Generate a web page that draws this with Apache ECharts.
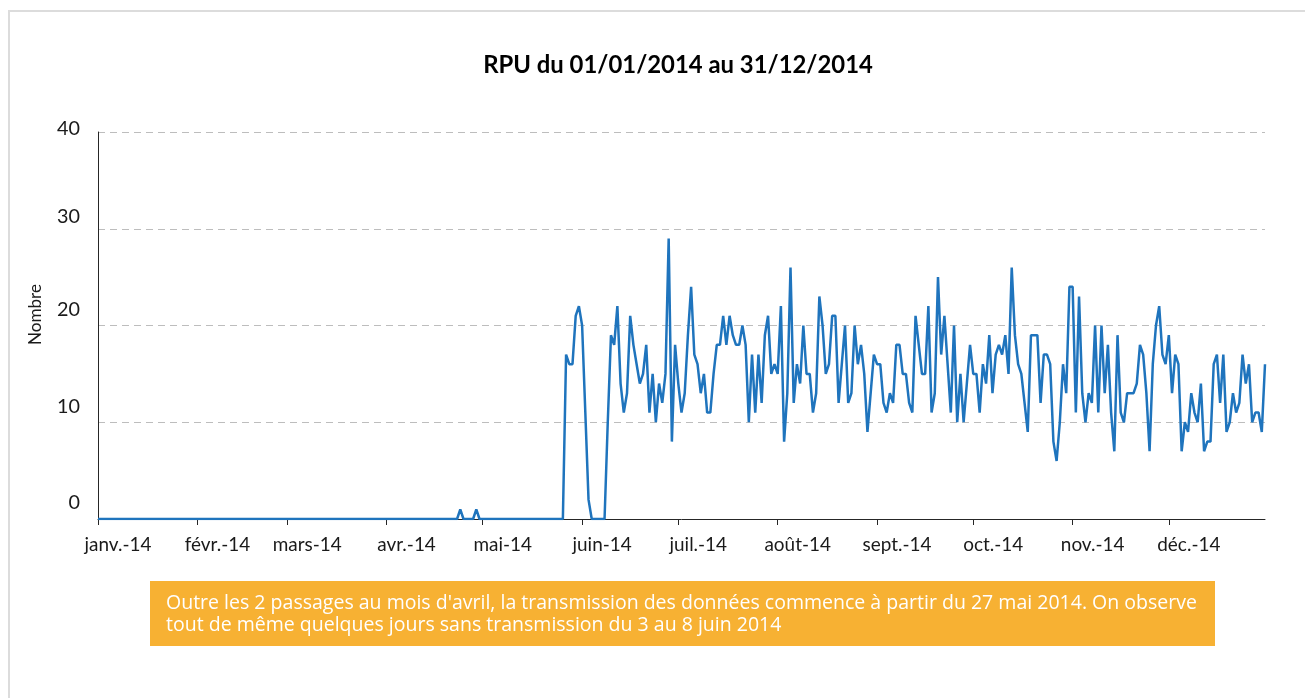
<!DOCTYPE html>
<html>
<head>
<meta charset="utf-8">
<script src="https://cdn.jsdelivr.net/npm/echarts@6/dist/echarts.min.js"></script>
<style>
html,body{margin:0;padding:0;background:#ffffff;}
#chart{width:1305px;height:698px;}
</style>
</head>
<body>
<div id="chart"></div>
<script>
// ---------------- DATA ----------------
const chartTitle = 'RPU du 01/01/2014 au 31/12/2014';
const yAxisName = 'Nombre';
const monthLabels = ['janv.-14','févr.-14','mars-14','avr.-14','mai-14','juin-14','juil.-14','août-14','sept.-14','oct.-14','nov.-14','déc.-14'];
const monthLengths = [31,28,31,30,31,30,31,31,30,31,30,31];
const yTickValues = [0,10,20,30,40];
const annotationLines = [
  "Outre les 2 passages au mois d'avril, la transmission des données commence à partir du 27 mai 2014. On observe",
  "tout de même quelques jours sans transmission du 3 au 8 juin 2014"
];

const janValues = [0,0,0,0,0,0,0,0,0,0,0,0,0,0,0,0,0,0,0,0,0,0,0,0,0,0,0,0,0,0,0];
const febValues = [0,0,0,0,0,0,0,0,0,0,0,0,0,0,0,0,0,0,0,0,0,0,0,0,0,0,0,0];
const marValues = [0,0,0,0,0,0,0,0,0,0,0,0,0,0,0,0,0,0,0,0,0,0,0,0,0,0,0,0,0,0,0];
const aprValues = [0,0,0,0,0,0,0,0,0,0,0,0,0,0,0,0,0,0,0,0,0,0,0,1,0,0,0,0,1,0];
const mayValues = [0,0,0,0,0,0,0,0,0,0,0,0,0,0,0,0,0,0,0,0,0,0,0,0,0,0,17,16,16,21,22];
const junValues = [20,11,2,0,0,0,0,0,10,19,18,22,14,11,13,21,18,16,14,15,18,11,15,10,14,12,15,29,8,18];
const julValues = [14,11,13,19,24,17,16,13,15,11,11,15,18,18,21,18,21,19,18,18,20,18,10,17,11,17,12,19,21,15,16];
const augValues = [15,22,8,13,26,12,16,14,20,15,15,11,13,23,20,15,16,21,21,12,16,20,12,13,20,16,18,15,9,13,17];
const sepValues = [16,16,12,11,13,12,18,18,15,15,12,11,21,18,15,15,22,11,13,25,17,21,16,11,20,10,15,10,14,18];
const octValues = [15,15,11,16,14,19,13,17,18,17,19,15,26,19,16,15,12,9,19,19,19,12,17,17,16,8,6,10,16,13,24];
const novValues = [24,11,23,13,10,13,12,20,11,20,13,18,11,7,19,11,10,13,13,13,14,18,17,13,7,16,20,22,17,16];
const decValues = [19,13,17,16,7,10,9,13,11,10,14,7,8,8,16,17,12,17,9,10,13,11,12,17,14,16,10,11,11,9,16];

// ---------------- BUILD ----------------
const monthlyValues = [janValues,febValues,marValues,aprValues,mayValues,junValues,julValues,augValues,sepValues,octValues,novValues,decValues];
const values = [].concat(...monthlyValues);
const pad = n => (n < 10 ? '0' : '') + n;
const categories = [];
const monthStartSet = new Set();
monthLengths.forEach((len, m) => {
  monthStartSet.add(categories.length);
  for (let d = 1; d <= len; d++) categories.push('2014-' + pad(m + 1) + '-' + pad(d));
});

// font-size fitting to the reference text widths
const ctx = document.createElement('canvas').getContext('2d');
function fit(text, family, weight, target, lo, hi) {
  ctx.font = weight + ' 100px ' + family;
  const w = ctx.measureText(text).width;
  let s = w > 0 ? 100 * target / w : (lo + hi) / 2;
  return Math.max(lo, Math.min(hi, s));
}
const mainFont = 'Lato';
const titleSize = fit(chartTitle, mainFont, 'bold', 390, 18, 30);
const xLabelSize = fit('janv.-14', mainFont, 'normal', 67, 14, 24);
const yLabelSize = fit('40', mainFont, 'normal', 23, 14, 24);
const nameSize = fit(yAxisName, mainFont, 'normal', 61, 13, 22);
const annFont = '"Open Sans"';
const annSize = fit(annotationLines[0], annFont, 'normal', 1032, 12, 20);

const yLift = {0: 16, 10: 16, 20: 16, 30: 12, 40: 3};
const yRich = {};
yTickValues.forEach(v => {
  yRich['y' + v] = {fontFamily: mainFont, fontSize: yLabelSize, color: '#1a1a1a', padding: [0, 0, 2 * yLift[v], 0]};
});

const chart = echarts.init(document.getElementById('chart'), null, {renderer: 'canvas'});
chart.setOption({
  animation: false,
  backgroundColor: '#ffffff',
  title: {
    text: chartTitle,
    left: 678,
    top: 50,
    padding: 0,
    textAlign: 'center',
    textStyle: {fontFamily: mainFont, fontWeight: 'bold', fontSize: titleSize, color: '#000000', lineHeight: 30}
  },
  grid: {left: 98, right: 40, top: 132, bottom: 179, containLabel: false},
  xAxis: {
    type: 'category',
    data: categories,
    boundaryGap: false,
    axisLine: {show: true, lineStyle: {color: '#262626', width: 1}},
    axisTick: {show: true, length: 6, interval: (i) => monthStartSet.has(i), lineStyle: {color: '#262626'}},
    axisLabel: {
      show: true,
      interval: (i) => monthStartSet.has(i),
      margin: 16,
      formatter: (val) => '{m|' + monthLabels[parseInt(val.slice(5, 7), 10) - 1] + '}',
      rich: {m: {fontFamily: mainFont, fontSize: xLabelSize, color: '#1a1a1a', padding: [0, 0, 0, 40]}}
    },
    splitLine: {show: false}
  },
  yAxis: {
    type: 'value',
    min: 0,
    max: 40,
    interval: 10,
    name: yAxisName,
    nameLocation: 'middle',
    nameRotate: 90,
    nameGap: 54,
    nameTextStyle: {fontFamily: mainFont, fontSize: nameSize, color: '#1a1a1a', padding: [0, 0, 0, 22]},
    axisLine: {show: true, lineStyle: {color: '#262626', width: 1}},
    axisTick: {show: false},
    axisLabel: {
      margin: 18,
      formatter: (v) => '{y' + v + '|' + v + '}',
      rich: yRich
    },
    splitLine: {show: true, lineStyle: {color: '#bdbdbd', type: [7, 5], width: 1}}
  },
  series: [{
    type: 'line',
    data: values,
    showSymbol: false,
    symbol: 'none',
    lineStyle: {color: '#1f74bd', width: 2.5},
    z: 5
  }],
  graphic: [
    {type: 'rect', shape: {x: 9, y: 11, width: 1400, height: 800}, style: {fill: 'none', stroke: '#dcdcdc', lineWidth: 2}, silent: true, z: -1},
    {type: 'rect', shape: {x: 150, y: 581, width: 1065, height: 65}, style: {fill: '#f7b133'}, silent: true},
    {type: 'text', x: 166, y: 592, silent: true,
     style: {text: annotationLines.join('\n'), fill: '#ffffff', fontFamily: 'Open Sans', fontSize: annSize, lineHeight: 22.5, align: 'left', verticalAlign: 'top'}}
  ]
});
</script>
</body>
</html>
